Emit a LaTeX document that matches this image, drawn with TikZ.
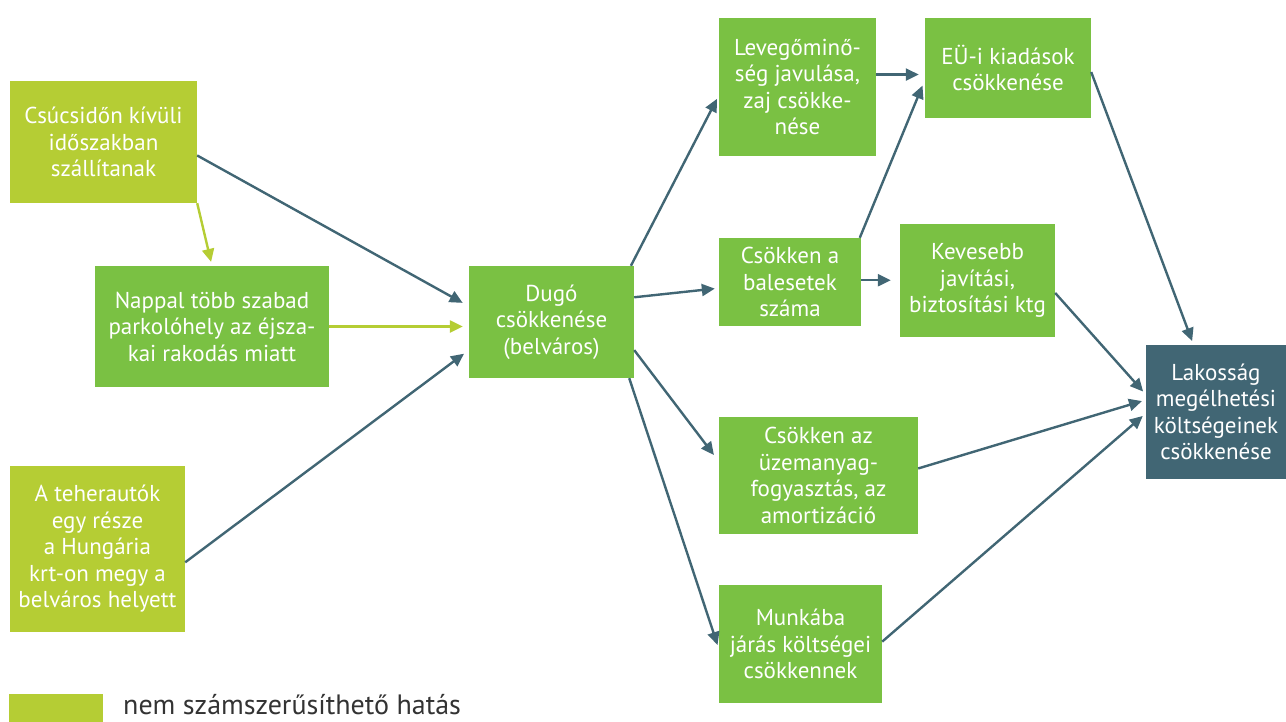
\documentclass[tikz,border=0pt]{standalone}
\usepackage{fontspec}
\setmainfont{PT Sans}
\usetikzlibrary{arrows.meta,calc}
\definecolor{lgreen}{HTML}{B5CD34}
\definecolor{mgreen}{HTML}{7AC143}
\definecolor{teal}{HTML}{416674}
\definecolor{legtext}{HTML}{333333}
\tikzset{
  box/.style={draw=none,inner sep=0pt,align=center,text=white,font=\fontsize{23}{26.5}\selectfont},
  ybox/.style={box,fill=lgreen},
  gbox/.style={box,fill=mgreen},
  tbox/.style={box,fill=teal},
  conn/.style={draw=teal,line width=2.4pt,-{Triangle[length=13pt,width=12pt]},shorten >=4pt},
  yconn/.style={conn,draw=lgreen},
}
\begin{document}
\begin{tikzpicture}[x=1pt,y=-1pt]
\useasboundingbox (0,0) rectangle (1286,721);
\node[ybox,minimum width=187pt,minimum height=122pt] (csu) at (103.5,142) {Csúcsidőn kívüli\\időszakban\\szállítanak};
\node[gbox,minimum width=234pt,minimum height=121pt] (nap) at (212,326.5) {Nappal több szabad\\parkolóhely az éjsza-\\kai rakodás miatt};
\node[ybox,minimum width=175pt,minimum height=166pt] (teh) at (97.5,549) {A teherautók\\egy része\\a Hungária\\krt-on megy a\\belváros helyett};
\node[gbox,minimum width=165pt,minimum height=112pt] (dug) at (551.5,322) {Dugó\\csökkenése\\(belváros)};
\node[gbox,minimum width=157pt,minimum height=138pt] (lev) at (797.5,87) {Levegőminő-\\ség javulása,\\zaj csökke-\\nése};
\node[gbox,minimum width=142pt,minimum height=88pt] (bal) at (790,282) {Csökken a\\balesetek\\száma};
\node[gbox,minimum width=166pt,minimum height=100pt] (eu) at (1008,68) {EÜ-i kiadások\\csökkenése};
\node[gbox,minimum width=155pt,minimum height=113pt] (kev) at (977.5,280.5) {Kevesebb\\javítási,\\biztosítási ktg};
\node[tbox,minimum width=140pt,minimum height=134pt] (lak) at (1216,412) {Lakosság\\megélhetési\\költségeinek\\csökkenése};
\node[gbox,minimum width=199pt,minimum height=117pt] (uze) at (818.5,475.5) {Csökken az\\üzemanyag-\\fogyasztás, az\\amortizáció};
\node[gbox,minimum width=163pt,minimum height=118pt] (mun) at (800.5,644) {Munkába\\járás költségei\\csökkennek};
% legend
\node[fill=lgreen,inner sep=0pt,minimum width=94pt,minimum height=30pt] (leg) at (56,709) {};
\node[anchor=base west,inner sep=0pt,text=legtext,font=\fontsize{28}{32}\selectfont] (legt) at (123,714) {nem számszerűsíthető hatás};
% connectors
\draw[conn,shorten >=7pt] ($(csu.north east)!0.61!(csu.south east)$) -- ($(dug.north west)!0.36!(dug.south west)$);
\draw[yconn] (csu.south east) -- (nap.north);
\draw[yconn,shorten >=6pt] (nap.east) -- (nap.east -| dug.west);
\draw[conn,shorten >=6pt] ($(teh.north east)!0.58!(teh.south east)$) -- ($(dug.north west)!0.75!(dug.south west)$);
\draw[conn] ($(dug.north west)!0.98!(dug.north east)$) -- ($(lev.north west)!0.56!(lev.south west)$);
\draw[conn] ($(dug.north east)!0.28!(dug.south east)$) -- ($(bal.north west)!0.57!(bal.south west)$);
\draw[conn,shorten >=8pt] ($(dug.north east)!0.75!(dug.south east)$) -- ($(uze.north west)!0.38!(uze.south west)$);
\draw[conn] ($(dug.south west)!0.97!(dug.south east)$) -- ($(mun.north west)!0.54!(mun.south west)$);
\coordinate (levE) at ($(lev.north east)!0.41!(lev.south east)$);
\draw[conn,shorten >=6pt] (levE) -- (levE -| eu.west);
\draw[conn,shorten >=6pt] ($(bal.north west)!0.99!(bal.north east)$) -- ($(eu.north west)!0.62!(eu.south west)$);
\coordinate (balE) at ($(bal.north east)!0.48!(bal.south east)$);
\draw[conn,shorten >=9pt] (balE) -- (balE -| kev.west);
\draw[conn] ($(eu.north east)!0.54!(eu.south east)$) -- ($(lak.north west)!0.34!(lak.north east)$);
\draw[conn] ($(kev.north east)!0.61!(kev.south east)$) -- ($(lak.north west)!0.37!(lak.south west)$);
\draw[conn] ($(uze.north east)!0.44!(uze.south east)$) -- ($(lak.north west)!0.41!(lak.south west)$);
\draw[conn] ($(mun.north east)!0.48!(mun.south east)$) -- ($(lak.north west)!0.51!(lak.south west)$);
\end{tikzpicture}
\end{document}
